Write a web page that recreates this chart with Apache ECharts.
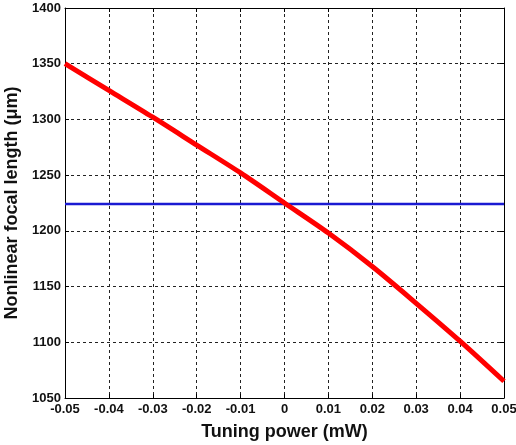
<!DOCTYPE html>
<html>
<head>
<meta charset="utf-8">
<script src="https://cdn.jsdelivr.net/npm/echarts@6/dist/echarts.min.js"></script>
<style>
  html, body { margin: 0; padding: 0; background: #fff; }
  #chart { width: 516px; height: 445px; }
</style>
</head>
<body>
<div id="chart"></div>
<script>
// Tuning power (mW) sample points
var tuningPower = [-0.05, -0.04, -0.03, -0.02, -0.01, 0, 0.01, 0.02, 0.03, 0.04, 0.05];
// Nonlinear focal length (µm) at each tuning power
var focalLength = [1350, 1326, 1302, 1277, 1252, 1225, 1198, 1168, 1135, 1101, 1065];
// Reference focal length (µm), constant across the tuning range
var referenceX = [-0.05, 0.05];
var referenceLength = [1224, 1224];

var xTicks = { min: -0.05, max: 0.05, step: 0.01 };
var yTicks = { min: 1050, max: 1400, step: 50 };

function pairs(xs, ys) {
  return xs.map(function (x, i) { return [x, ys[i]]; });
}

var labelFont = { color: '#111', fontFamily: 'Liberation Sans, Arial, sans-serif', fontWeight: 'bold', fontSize: 13 };
var nameFont = { color: '#111', fontFamily: 'Liberation Sans, Arial, sans-serif', fontWeight: 'bold', fontSize: 18 };
var gridLine = { show: true, lineStyle: { color: '#222', width: 1, type: [3, 3] } };
var frameLine = { show: true, onZero: false, lineStyle: { color: '#000', width: 1 } };
var tickIn = { show: true, inside: true, length: 4, lineStyle: { color: '#000' } };

function fmtX(v) {
  if (Math.abs(v) < 1e-9) return '0';
  return v.toFixed(2);
}
function fmtY(v) {
  return String(Math.round(v));
}

var chart = echarts.init(document.getElementById('chart'), null, { renderer: 'canvas' });
chart.setOption({
  animation: false,
  backgroundColor: '#fff',
  grid: { left: 65, right: 12, top: 8, bottom: 47, containLabel: false, outerBoundsMode: 'none' },
  xAxis: [{
    type: 'value', position: 'bottom',
    min: xTicks.min, max: xTicks.max, interval: xTicks.step,
    name: 'Tuning power (mW)', nameLocation: 'middle', nameGap: 25,
    nameTextStyle: nameFont,
    axisLine: frameLine, axisTick: tickIn, splitLine: gridLine,
    axisLabel: Object.assign({ margin: 5, formatter: fmtX }, labelFont)
  }, {
    type: 'value', position: 'top',
    min: xTicks.min, max: xTicks.max, interval: xTicks.step,
    axisLine: frameLine, axisTick: tickIn, splitLine: { show: false },
    axisLabel: { show: false }
  }],
  yAxis: [{
    type: 'value', position: 'left',
    min: yTicks.min, max: yTicks.max, interval: yTicks.step,
    name: 'Nonlinear focal length (\u03bcm)', nameLocation: 'middle', nameGap: 40,
    nameTextStyle: nameFont,
    axisLine: frameLine, axisTick: tickIn, splitLine: gridLine,
    axisLabel: Object.assign({ margin: 4, formatter: fmtY }, labelFont)
  }, {
    type: 'value', position: 'right',
    min: yTicks.min, max: yTicks.max, interval: yTicks.step,
    axisLine: frameLine, axisTick: tickIn, splitLine: { show: false },
    axisLabel: { show: false }
  }],
  series: [{
    type: 'line',
    data: pairs(referenceX, referenceLength),
    showSymbol: false,
    lineStyle: { color: '#1a1ad2', width: 2.5 },
    z: 3
  }, {
    type: 'line',
    data: pairs(tuningPower, focalLength),
    smooth: 0.3,
    showSymbol: false,
    lineStyle: { color: '#ff0000', width: 5 },
    z: 4
  }]
});
</script>
</body>
</html>
